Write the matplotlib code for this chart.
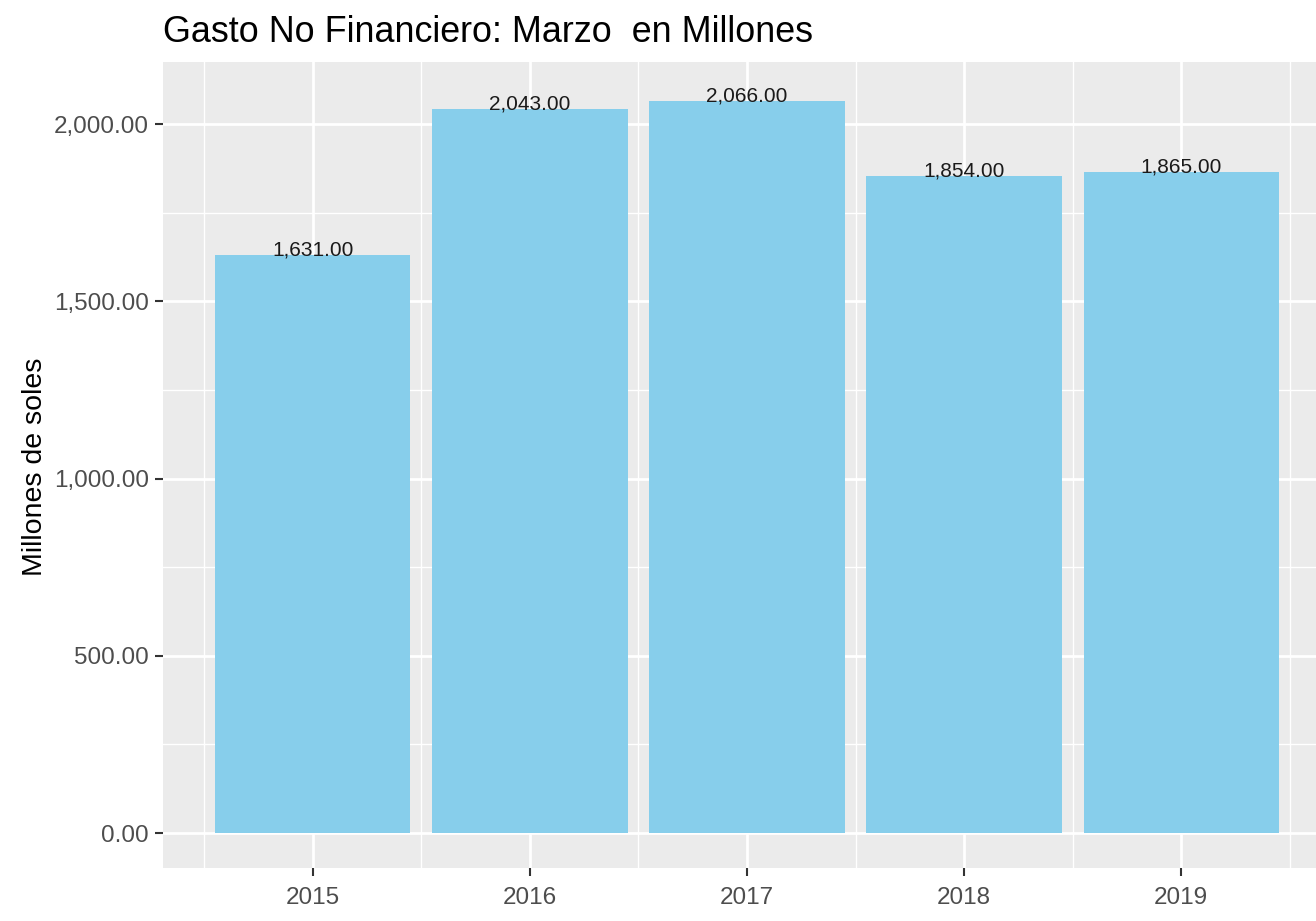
import matplotlib
matplotlib.use("Agg")
import matplotlib.pyplot as plt
from matplotlib.ticker import FixedLocator

plt.rcParams['font.family'] = ['Liberation Sans', 'DejaVu Sans']

years = ["2015", "2016", "2017", "2018", "2019"]
values = [1631, 2043, 2066, 1854, 1865]
yticks = [0, 500, 1000, 1500, 2000]
yminor = [250, 750, 1250, 1750]

W, H = 1316, 921
fig = plt.figure(figsize=(W / 100, H / 100), dpi=100)
L, R, T, B = 163, 1331, 62, 868
ax = fig.add_axes([L / W, 1 - B / H, (R - L) / W, (B - T) / H])
ax.set_facecolor('#EBEBEB')

xpos = list(range(1, len(years) + 1))
ax.set_xlim(0.31, 5.69)
ax.set_ylim(-98.7, 2175)

ax.yaxis.set_major_locator(FixedLocator(yticks))
ax.yaxis.set_minor_locator(FixedLocator(yminor))
ax.xaxis.set_major_locator(FixedLocator(xpos))
ax.xaxis.set_minor_locator(FixedLocator([x + 0.5 for x in [0] + xpos]))
ax.set_xticklabels(years)
ax.set_yticklabels([f"{v:,.2f}" for v in yticks])

ax.grid(which='major', color='white', linewidth=2.0)
ax.grid(which='minor', color='white', linewidth=1.0)
ax.set_axisbelow(True)
for s in ax.spines.values():
    s.set_visible(False)

ax.tick_params(which='major', length=6, width=1.5, color='#333333',
               labelcolor='#4D4D4D', labelsize=17.5, pad=4)
ax.tick_params(axis='x', which='major', pad=7.5)
ax.tick_params(which='minor', length=0)

ax.bar(xpos, values, width=0.9, color='#87CEEB', zorder=2)
for x, v in zip(xpos, values):
    ax.annotate(f"{v:,.2f}", (x, v), xytext=(0, 3.6), textcoords='offset points',
                ha='center', va='center', fontsize=15, color='#1A1A1A', zorder=3)

fig.text(L / W, 1 - 33 / H, "Gasto No Financiero: Marzo  en Millones",
         ha='left', va='center', fontsize=25.8, color='black')
fig.text(35 / W, 1 - 467 / H, "Millones de soles", rotation=90,
         ha='center', va='center', fontsize=20.5, color='black')

fig.savefig("out.png", dpi=100)
